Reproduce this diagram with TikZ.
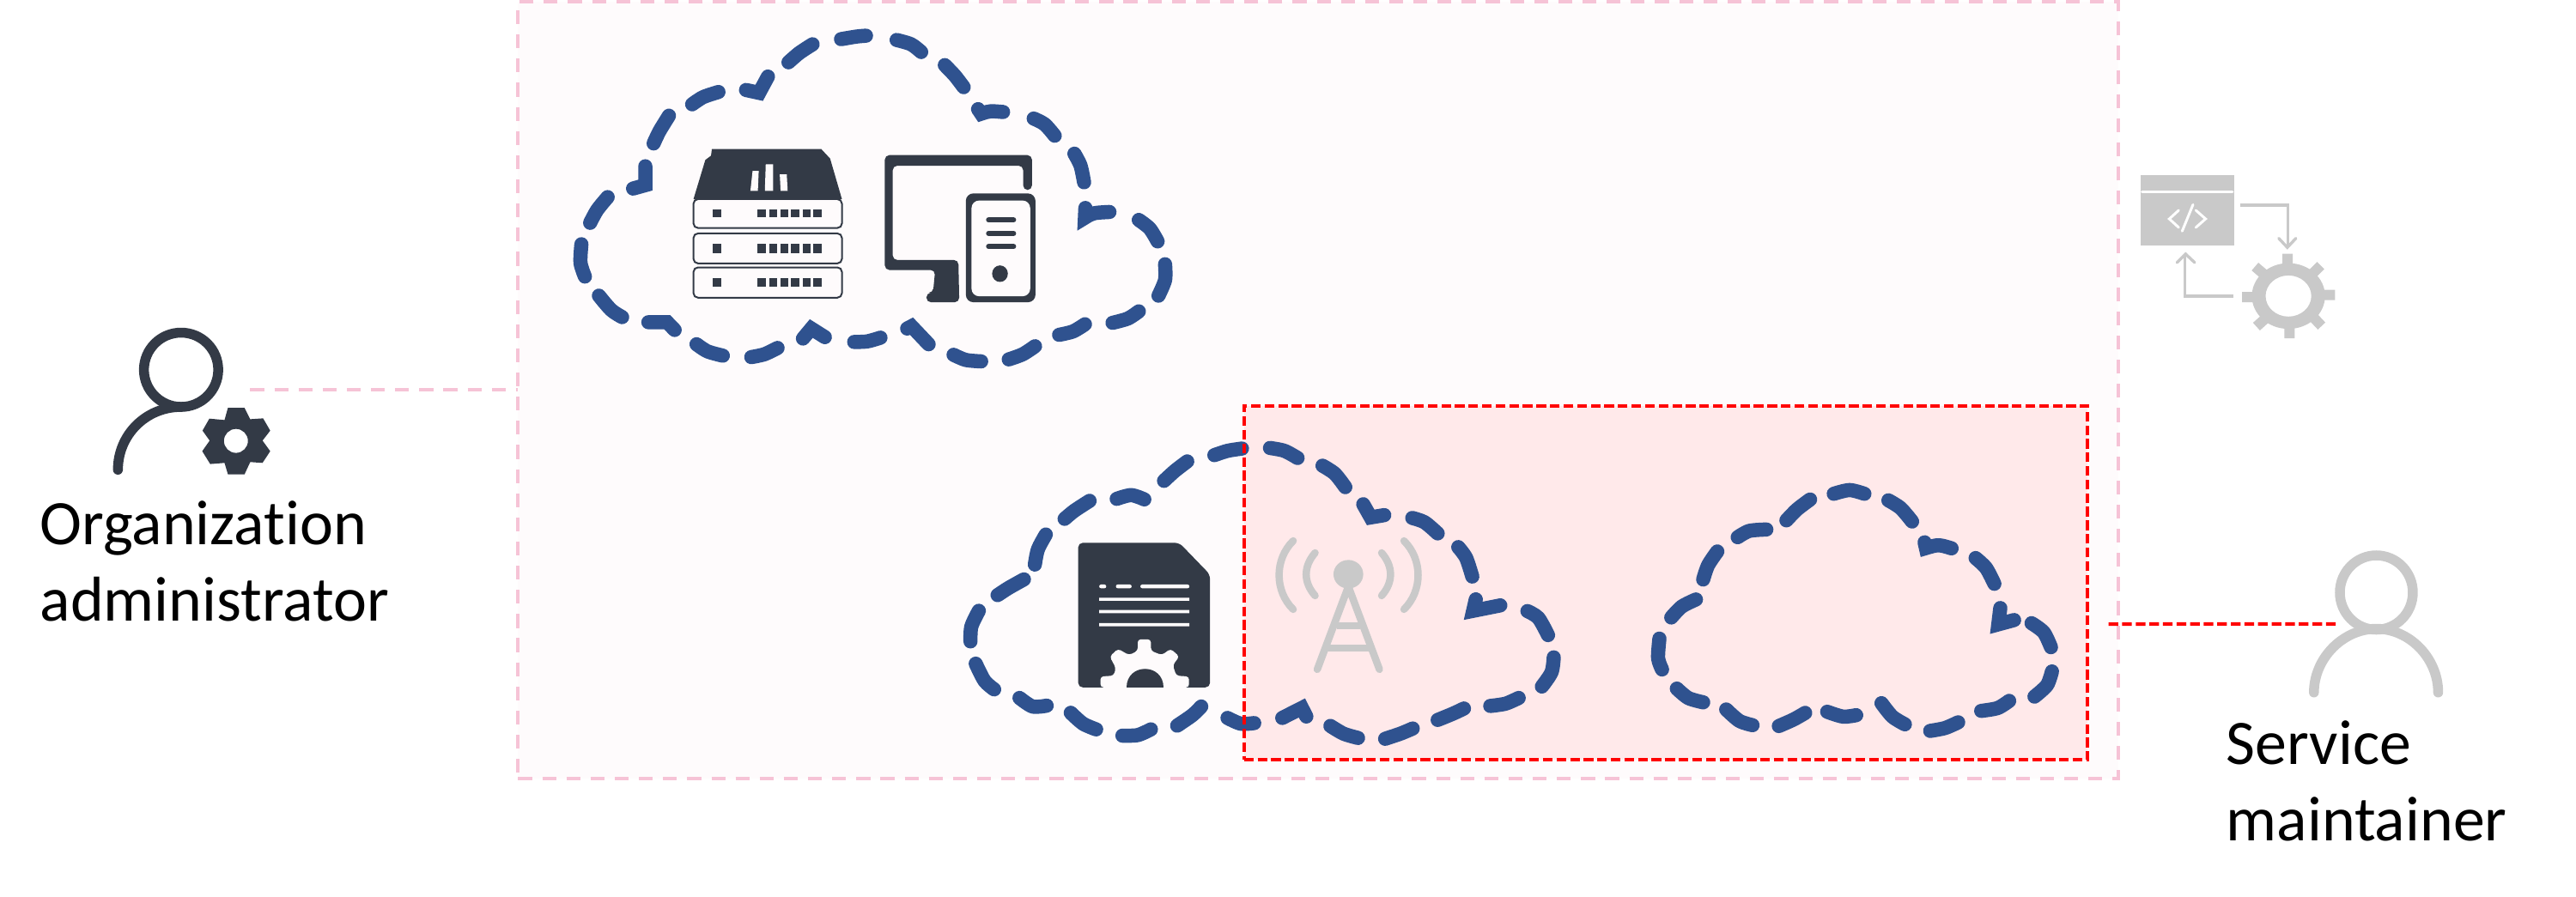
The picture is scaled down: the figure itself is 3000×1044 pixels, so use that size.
\documentclass[tikz,border=0pt]{standalone}
\usepackage{fontspec}
\setmainfont{Carlito}[Ligatures=CommonOff]
\definecolor{ink}{HTML}{333A46}
\definecolor{cloudblue}{HTML}{2F528F}
\definecolor{pinkline}{HTML}{F6C3D6}
\definecolor{pinkfill}{HTML}{FEFBFC}
\definecolor{redfill}{HTML}{FFE9EA}
\definecolor{fade}{HTML}{C9C9C9}
\def\pw{0.2845pt}
\tikzset{
 zone/.style={x=0.005102cm,y=-0.003333cm},
 clouddash/.style={draw=cloudblue,line width=16.5*\pw,line cap=round,line join=round},
 cloudnotch/.style={draw=cloudblue,line width=16.5*\pw,line cap=round,line join=miter,miter limit=12},
 pinkdash/.style={draw=pinkline,line width=4*\pw,dash pattern=on 4.6pt off 3.4pt},
 reddash/.style={draw=red,line width=4*\pw,dash pattern=on 3.2pt off 1.3pt},
 label/.style={font=\fontsize{21}{25.3}\selectfont,align=left,inner sep=0pt,anchor=north west,text=black},
 personline/.style={line width=11.5*\pw,line cap=round},
 fadeline/.style={draw=fade,line width=8.5*\pw,line cap=round},
 arrowline/.style={draw=fade,line width=3.4*\pw},
}
\begin{document}
\begin{tikzpicture}[x=0.01cm,y=-0.01cm]
\useasboundingbox (0,0) rectangle (3000,1044);
\node[pinkdash,fill=pinkfill,rectangle,minimum width=18.62cm,minimum height=9.05cm,inner sep=0pt,outer sep=0pt] (outer) at (1535,454.5) {};
\node[fill=redfill,rectangle,minimum width=9.82cm,minimum height=4.12cm,inner sep=0pt,outer sep=0pt] (redzone) at (1940,679) {};

% Cloud 1 and icons
\begin{scope}[zone,shift={(6.4cm,0cm)}]
\draw[clouddash]
 plot[smooth] coordinates {(665,137)(700,128)(722,125)}
 plot[smooth] coordinates {(792,140)(825,155)(848,182)}
 plot[smooth] coordinates {(902,228)(925,265)(945,305)}
 plot[smooth] coordinates {(1105,415)(1130,435)(1153,475)}
 plot[smooth] coordinates {(1198,538)(1212,580)(1220,638)}
 plot[smooth] coordinates {(1345,770)(1370,800)(1388,845)}
 plot[smooth] coordinates {(1405,925)(1405,980)(1390,1035)}
 plot[smooth] coordinates {(1345,1090)(1320,1115)(1285,1130)}
 plot[smooth] coordinates {(1222,1135)(1195,1160)(1163,1172)}
 plot[smooth] coordinates {(1108,1212)(1080,1240)(1048,1258)}
 plot[smooth] coordinates {(985,1265)(950,1260)(922,1242)}
 plot[smooth] coordinates {(755,1182)(725,1195)(695,1197)}
 plot[smooth] coordinates {(520,1218)(490,1240)(460,1250)}
 plot[smooth] coordinates {(395,1245)(360,1230)(335,1205)}
 plot[smooth] coordinates {(165,1110)(140,1085)(112,1035)}
 plot[smooth] coordinates {(80,968)(70,920)(72,855)}
 plot[smooth] coordinates {(92,780)(108,735)(132,690)}
 plot[smooth] coordinates {(237,502)(250,460)(272,405)}
 plot[smooth] coordinates {(325,365)(350,340)(385,322)}
 plot[smooth] coordinates {(545,218)(570,185)(600,155)};
\draw[cloudnotch] (978,382) -- (985,398) .. controls (1005,388) .. (1035,392);
\draw[cloudnotch] (1223,728) -- (1222,762) .. controls (1240,745) .. (1278,742);
\draw[cloudnotch] (865,1205) -- (826,1142) -- (816,1150);
\draw[cloudnotch] (628,1180) -- (597,1150) -- (578,1185);
\draw[cloudnotch] (285,1155) -- (268,1128) -- (225,1128);
\draw[cloudnotch] (190,660) -- (218,648) -- (218,582);
\draw[cloudnotch] (448,315) -- (478,325) -- (498,268);
% server stack
\fill[ink] (328,697) -- (355,560) -- (368,545) -- (370,522) -- (620,522) -- (640,555) -- (667,697) -- cycle;
\fill[pinkfill] (458,668) -- (463,598) -- (477,598) -- (475,668) -- cycle
 (491,668) -- (493,575) -- (510,575) -- (510,668) -- cycle
 (527,668) -- (525,610) -- (541,610) -- (543,668) -- cycle;
\foreach \a/\b/\c/\d in {697/798/732/760,817/922/852/885,936/1042/975/1003}{
 \draw[ink,line width=2*\pw,rounded corners=1.5pt] (328,\a) rectangle (667,\b);
 \fill[ink] (372,\c) rectangle (392,\d);
 \foreach \l/\r in {474/494,501/519,527/545,551/569,577/595,602/620}{\fill[ink] (\l,\c) rectangle (\r,\d);}
}
% computer
\fill[ink,rounded corners=1.5pt] (765,543) -- (1101,543) -- (1101,665) -- (1081,665) -- (1081,580) -- (783,580) -- (783,910) -- (933,910) -- (935,1058) -- (860,1058) -- (860,1025) -- (875,1025) -- (880,945) -- (765,945) -- cycle;
\fill[ink,rounded corners=2.5pt] (950,677) rectangle (1109,1058);
\fill[pinkfill,rounded corners=2.5pt] (963,702) rectangle (1097,1037);
\foreach \y in {770,817,863}{\draw[ink,line width=6*\pw,line cap=round] (1002,\y) -- (1059,\y);}
\fill[ink] (1028,958) ellipse [x radius=18, y radius=29];
\end{scope}

% Cloud 2 and icons
\begin{scope}[zone,shift={(11cm,-4.8cm)}]
\fill[ink,rounded corners=1.5pt] (304,457) -- (535,457) -- (605,568) -- (605,963) -- (304,963) -- cycle;
\fill[pinkfill,rounded corners=0.6pt] (352,603) rectangle (368,616) (390,603) rectangle (426,616) (446,603) rectangle (558,616);
\fill[pinkfill] (352,649) rectangle (558,660) (352,692) rectangle (558,703) (352,738) rectangle (558,749);
\fill[pinkfill,rounded corners=1pt] (355,963) -- (355,925) -- (385,922) -- (390,895) -- (376,855) -- (395,828) -- (420,850) -- (440,835) -- (440,795) -- (470,795) -- (470,835) -- (495,850) -- (515,828) -- (535,855) -- (520,885) -- (528,922) -- (557,925) -- (557,963) -- cycle;
\fill[ink] (415,963) .. controls (415,875) and (498,875) .. (498,963) -- cycle;
% antenna
\fill[fade] (921,567) ellipse [x radius=34, y radius=50];
\draw[fadeline] (850,900) -- (921,610) -- (992,900);
\draw[fadeline,line cap=butt] (895,748) -- (947,748) (870,825) -- (972,825);
\draw[fadeline] (795,450) .. controls (752,515) and (752,625) .. (795,690);
\draw[fadeline] (845,492) .. controls (818,540) and (818,595) .. (845,642);
\draw[fadeline] (997,492) .. controls (1024,540) and (1024,595) .. (997,642);
\draw[fadeline] (1048,450) .. controls (1091,515) and (1091,625) .. (1048,690);
\draw[clouddash]
 plot[smooth] coordinates {(615,150)(645,135)(678,127)}
 plot[smooth] coordinates {(742,125)(775,135)(805,160)}
 plot[smooth] coordinates {(862,187)(890,215)(914,262)}
 plot[smooth] coordinates {(1067,370)(1095,385)(1125,424)}
 plot[smooth] coordinates {(1172,472)(1190,510)(1204,575)}
 plot[smooth] coordinates {(1330,696)(1355,720)(1377,780)}
 plot[smooth] coordinates {(1390,858)(1385,910)(1363,960)}
 plot[smooth] coordinates {(1310,1000)(1280,1020)(1245,1028)}
 plot[smooth] coordinates {(1185,1037)(1160,1055)(1125,1077)}
 plot[smooth] coordinates {(1068,1107)(1040,1125)(1005,1143)}
 plot[smooth] coordinates {(943,1140)(910,1125)(880,1098)}
 plot[smooth] coordinates {(706,1088)(675,1090)(645,1070)}
 plot[smooth] coordinates {(585,1030)(565,1060)(530,1097)}
 plot[smooth] coordinates {(470,1110)(440,1130)(405,1132)}
 plot[smooth] coordinates {(345,1110)(315,1090)(287,1052)}
 plot[smooth] coordinates {(232,1027)(200,1030)(170,1000)}
 plot[smooth] coordinates {(112,970)(90,940)(70,880)}
 plot[smooth] coordinates {(58,802)(60,750)(77,695)}
 plot[smooth] coordinates {(120,640)(145,615)(180,585)}
 plot[smooth] coordinates {(205,533)(212,480)(230,428)}
 plot[smooth] coordinates {(273,373)(295,345)(330,310)}
 plot[smooth] coordinates {(392,303)(425,290)(455,305)}
 plot[smooth] coordinates {(500,240)(525,205)(553,172)};
\draw[cloudnotch] (955,322) -- (972,368) -- (1003,360);
\draw[cloudnotch] (1212,655) -- (1206,695) -- (1268,676);
\draw[cloudnotch] (825,1065) -- (815,1035) -- (770,1070);
\end{scope}

% Cloud 3
\begin{scope}[x=0.003827cm,y=-0.003333cm,shift={(19cm,-5.3cm)}]
\draw[clouddash]
 plot[smooth] coordinates {(612,135)(660,122)(705,135)}
 plot[smooth] coordinates {(778,158)(815,185)(850,232)}
 plot[smooth] coordinates {(1043,360)(1075,395)(1100,450)}
 plot[smooth] coordinates {(1213,588)(1250,620)(1272,672)}
 plot[smooth] coordinates {(1275,757)(1260,805)(1222,845)}
 plot[smooth] coordinates {(1145,860)(1110,885)(1060,895)}
 plot[smooth] coordinates {(990,935)(950,955)(905,965)}
 plot[smooth] coordinates {(828,942)(790,915)(757,868)}
 plot[smooth] coordinates {(680,910)(640,915)(592,898)}
 plot[smooth] coordinates {(525,902)(490,925)(445,948)}
 plot[smooth] coordinates {(365,945)(325,930)(285,890)}
 plot[smooth] coordinates {(215,865)(170,850)(135,817)}
 plot[smooth] coordinates {(90,750)(78,710)(82,642)}
 plot[smooth] coordinates {(118,568)(150,530)(193,505)}
 plot[smooth] coordinates {(215,435)(230,385)(258,337)}
 plot[smooth] coordinates {(320,287)(355,265)(407,260)}
 plot[smooth] coordinates {(468,228)(500,190)(540,155)};
\draw[cloudnotch] (888,305) -- (892,325) .. controls (930,312) .. (970,326);
\draw[cloudnotch] (1118,535) -- (1112,592) -- (1160,577);
\end{scope}

\node[reddash,rectangle,minimum width=9.82cm,minimum height=4.12cm,inner sep=0pt,outer sep=0pt] (redborder) at (1940,679) {};

% code / gear icon
\begin{scope}[x=0.003333cm,y=-0.003333cm,shift={(24.6cm,-1.8cm)}]
\fill[fade] (96,73) rectangle (422,317);
\draw[white,line width=3*\pw,line cap=round] (100,131) -- (416,131);
\draw[white,line width=3*\pw,line cap=round] (228,195) -- (195,225) -- (228,255) (288,195) -- (322,225) -- (288,255) (278,175) -- (240,268);
\draw[arrowline] (443,177) -- (610,177) -- (610,325);
\draw[arrowline,line cap=round] (578,293) -- (608,325) -- (638,293);
\draw[arrowline] (420,495) -- (250,495) -- (250,350);
\draw[arrowline,line cap=round] (222,378) -- (252,348) -- (284,378);
\fill[fade,even odd rule] (612,495) ellipse [x radius=128, y radius=115] (612,495) ellipse [x radius=80, y radius=72];
\draw[fade,line width=12*\pw] (609,347) -- (609,385) (450,499) -- (490,499) (775,491) -- (735,491) (616,643) -- (616,605)
 (495,392) -- (530,422) (725,388) -- (695,418) (500,602) -- (530,575) (728,600) -- (695,565);
\end{scope}

% admin person
\begin{scope}[x=0.003333cm,y=-0.003333cm,shift={(1cm,-3.6cm)}]
\draw[ink,personline] (333,212) circle [radius=130];
\draw[ink,personline] (112,562) .. controls (112,440) and (210,342) .. (333,342);
\fill[ink,even odd rule] (497,345) -- (555,345) -- (575,385) -- (620,382) -- (645,425) -- (618,460) -- (645,497) -- (618,538) -- (575,535) -- (555,578) -- (497,578) -- (485,538) -- (435,542) -- (407,497) -- (433,460) -- (408,425) -- (432,383) -- (485,388) -- cycle
 (525,461) circle [radius=42];
\coordinate (adminport) at (575,283);
\end{scope}

% maintainer person
\begin{scope}[x=0.003515cm,y=-0.003333cm,shift={(24.5cm,-6.2cm)}]
\draw[fade,personline] (900,210) ellipse [x radius=121, y radius=130];
\draw[fade,personline] (693,560) .. controls (693,440) and (790,337) .. (900,337) .. controls (1010,337) and (1105,440) .. (1105,560);
\coordinate (maintport) at (765,320);
\end{scope}

\draw[pinkdash] (adminport) -- (outer.west |- adminport);
\draw[reddash] (maintport) -- (2455,727);

\node[label] (orgadmin) at (46,583) {Organization\\administrator};
\node[label] (maintainer) at (2592,839) {Service\\maintainer};
\end{tikzpicture}
\end{document}
